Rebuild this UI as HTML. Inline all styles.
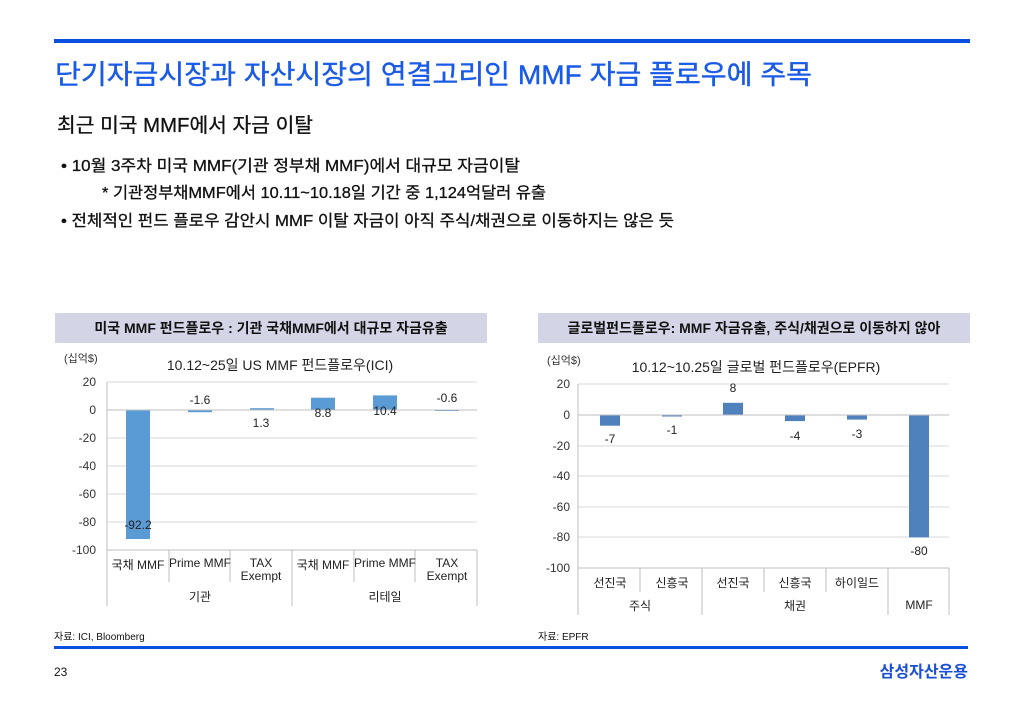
<!DOCTYPE html>
<html><head><meta charset="utf-8"><style>
body{margin:0;background:#fff;}
svg{display:block;font-family:"Liberation Sans","Noto Sans CJK KR",sans-serif;}
</style></head><body>
<svg width="1024" height="709" viewBox="0 0 1024 709" xmlns="http://www.w3.org/2000/svg">
<rect width="1024" height="709" fill="#fff"/>
<rect x="54" y="39" width="916" height="4" fill="#0a4fe0"/>
<text x="55" y="84" font-size="27" fill="#1a5be6" stroke="#1a5be6" stroke-width="0.4" textLength="757" lengthAdjust="spacingAndGlyphs">단기자금시장과 자산시장의 연결고리인 MMF 자금 플로우에 주목</text>
<text x="57" y="132" font-size="20" fill="#111" stroke="#111" stroke-width="0.3" textLength="256" lengthAdjust="spacingAndGlyphs">최근 미국 MMF에서 자금 이탈</text>
<g fill="#111" stroke="#111" stroke-width="0.3" font-size="16">
<text x="61" y="171" textLength="459" lengthAdjust="spacingAndGlyphs">• 10월 3주차 미국 MMF(기관 정부채 MMF)에서 대규모 자금이탈</text>
<text x="102" y="198" textLength="444" lengthAdjust="spacingAndGlyphs">* 기관정부채MMF에서 10.11~10.18일 기간 중 1,124억달러 유출</text>
<text x="61" y="226" textLength="613" lengthAdjust="spacingAndGlyphs">• 전체적인 펀드 플로우 감안시 MMF 이탈 자금이 아직 주식/채권으로 이동하지는 않은 듯</text>
</g>

<!-- Left chart -->
<rect x="55" y="313" width="432" height="30" fill="#d3d5e6"/>
<text x="271" y="333" font-size="14" font-weight="bold" text-anchor="middle" fill="#111">미국 MMF 펀드플로우 : 기관 국채MMF에서 대규모 자금유출</text>
<text x="64" y="362" font-size="11" fill="#333">(십억$)</text>
<text x="280" y="370" font-size="14" text-anchor="middle" fill="#222">10.12~25일 US  MMF 펀드플로우(ICI)</text>
<g stroke="#d9d9d9" stroke-width="1">
<line x1="107" y1="382" x2="477" y2="382"/><line x1="107" y1="438" x2="477" y2="438"/>
<line x1="107" y1="466" x2="477" y2="466"/><line x1="107" y1="494" x2="477" y2="494"/>
<line x1="107" y1="522" x2="477" y2="522"/>
</g>
<g font-size="12" fill="#333" text-anchor="end">
<text x="96" y="386">20</text><text x="96" y="414">0</text><text x="96" y="442">-20</text><text x="96" y="470">-40</text><text x="96" y="498">-60</text><text x="96" y="526">-80</text><text x="96" y="554">-100</text>
</g>
<g fill="#5b9bd5">
<rect x="126" y="410" width="24" height="129"/>
<rect x="188" y="410" width="24" height="2.2"/>
<rect x="250" y="408.2" width="24" height="1.8"/>
<rect x="311" y="397.7" width="24" height="12.3"/>
<rect x="373" y="395.4" width="24" height="14.6"/>
<rect x="435" y="410" width="24" height="1"/>
</g>
<g stroke="#bfbfbf" stroke-width="1">
<line x1="107" y1="382" x2="107" y2="606"/><line x1="107" y1="410" x2="477" y2="410"/>
<line x1="107" y1="550" x2="477" y2="550"/>
<line x1="169" y1="550" x2="169" y2="582"/><line x1="230" y1="550" x2="230" y2="582"/>
<line x1="292" y1="550" x2="292" y2="606"/><line x1="354" y1="550" x2="354" y2="582"/>
<line x1="415" y1="550" x2="415" y2="582"/><line x1="477" y1="550" x2="477" y2="606"/>
</g>
<g font-size="12" fill="#222" text-anchor="middle">
<text x="138" y="529">-92.2</text><text x="200" y="404">-1.6</text><text x="261" y="427">1.3</text>
<text x="323" y="417">8.8</text><text x="385" y="415">10.4</text><text x="447" y="402">-0.6</text>
<text x="138" y="569">국채 MMF</text><text x="200" y="567">Prime MMF</text><text x="261" y="567">TAX</text><text x="261" y="580">Exempt</text>
<text x="323" y="569">국채 MMF</text><text x="385" y="567">Prime MMF</text><text x="447" y="567">TAX</text><text x="447" y="580">Exempt</text>
<text x="200" y="601">기관</text><text x="385" y="601">리테일</text>
</g>

<!-- Right chart -->
<rect x="538" y="313" width="432" height="30" fill="#d3d5e6"/>
<text x="754" y="333" font-size="14" font-weight="bold" text-anchor="middle" fill="#111">글로벌펀드플로우: MMF 자금유출, 주식/채권으로 이동하지 않아</text>
<text x="547" y="364" font-size="11" fill="#333">(십억$)</text>
<text x="756" y="372" font-size="14" text-anchor="middle" fill="#222">10.12~10.25일 글로벌 펀드플로우(EPFR)</text>
<g stroke="#d9d9d9" stroke-width="1">
<line x1="578" y1="384" x2="949" y2="384"/><line x1="578" y1="446" x2="949" y2="446"/>
<line x1="578" y1="476" x2="949" y2="476"/><line x1="578" y1="507" x2="949" y2="507"/>
<line x1="578" y1="537" x2="949" y2="537"/>
</g>
<g font-size="12" fill="#333" text-anchor="end">
<text x="570" y="388">20</text><text x="570" y="419">0</text><text x="570" y="450">-20</text><text x="570" y="480">-40</text><text x="570" y="511">-60</text><text x="570" y="541">-80</text><text x="570" y="572">-100</text>
</g>
<g fill="#4f81bd">
<rect x="600" y="415" width="20" height="10.7"/>
<rect x="662" y="415" width="20" height="1.5"/>
<rect x="723" y="402.8" width="20" height="12.2"/>
<rect x="785" y="415" width="20" height="6.1"/>
<rect x="847" y="415" width="20" height="4.6"/>
<rect x="909" y="415" width="20" height="122.4"/>
</g>
<g stroke="#bfbfbf" stroke-width="1">
<line x1="578" y1="384" x2="578" y2="615"/><line x1="578" y1="415" x2="949" y2="415"/>
<line x1="578" y1="568" x2="949" y2="568"/>
<line x1="640" y1="568" x2="640" y2="592"/><line x1="702" y1="568" x2="702" y2="615"/>
<line x1="764" y1="568" x2="764" y2="592"/><line x1="826" y1="568" x2="826" y2="592"/>
<line x1="888" y1="568" x2="888" y2="615"/><line x1="949" y1="568" x2="949" y2="615"/>
</g>
<g font-size="12" fill="#222" text-anchor="middle">
<text x="610" y="443">-7</text><text x="672" y="434">-1</text><text x="733" y="392">8</text>
<text x="795" y="440">-4</text><text x="857" y="438">-3</text><text x="919" y="555">-80</text>
<text x="610" y="587">선진국</text><text x="672" y="587">신흥국</text><text x="733" y="587">선진국</text>
<text x="795" y="587">신흥국</text><text x="857" y="587">하이일드</text>
<text x="640" y="610">주식</text><text x="795" y="610">채권</text><text x="919" y="609">MMF</text>
</g>

<text x="54" y="640" font-size="10" fill="#111">자료: ICI, Bloomberg</text>
<text x="538" y="640" font-size="10" fill="#111">자료: EPFR</text>
<rect x="54" y="646" width="914" height="3" fill="#0a4fe0"/>
<text x="54" y="676" font-size="12" fill="#111">23</text>
<text x="968" y="677" font-size="16" font-weight="bold" fill="#1a4fd6" text-anchor="end">삼성자산운용</text>
</svg>
</body></html>
